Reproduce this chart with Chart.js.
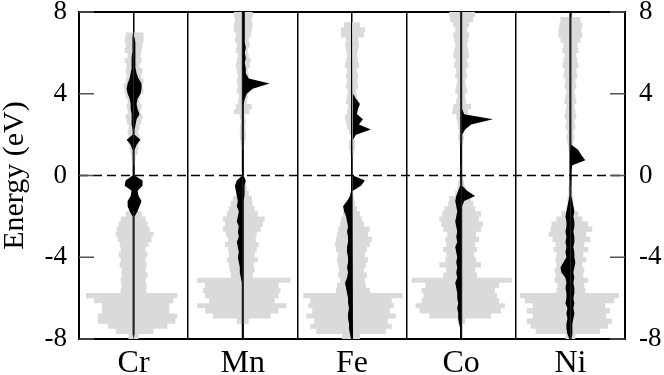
<!DOCTYPE html>
<html>
<head>
<meta charset="UTF-8">
<title>DOS Cr Mn Fe Co Ni</title>
<script src="https://cdn.jsdelivr.net/npm/chart.js"></script>
<style>
  html, body { margin: 0; padding: 0; background: #fff; }
  .box { width: 664px; height: 375px; position: relative; }
</style>
</head>
<body>
<div class="box"><canvas id="dos"></canvas></div>
<script>
// energy grid (eV)
const energy = [-8,-7.75,-7.5,-7.25,-7,-6.75,-6.5,-6.25,-6,-5.75,-5.5,-5.25,-5,-4.75,-4.5,-4.25,
  -4,-3.75,-3.5,-3.25,-3,-2.75,-2.5,-2.25,-2,-1.75,-1.5,-1.25,-1,-0.75,-0.5,-0.25,
  0,0.25,0.5,0.75,1,1.25,1.5,1.75,2,2.25,2.5,2.75,3,3.25,3.5,3.75,
  4,4.25,4.5,4.75,5,5.25,5.5,5.75,6,6.25,6.5,6.75,7,7.25,7.5,7.75,8];
const elements = ['Cr', 'Mn', 'Fe', 'Co', 'Ni'];
const yTicks = [-8, -4, 0, 4, 8];

// host DOS (grey), spin up = right, spin down = left
const crHostUp = [5,20,34,42,44,36,36,40, 44,13,13,12,14,12,13,12, 14,12,15,18,20,16,14,12, 8,0,0,0,0,0,0,0,
  0,0,1,2,4,5,5,6, 5,6,8,9,7,8,6,7, 10,9,10,8,9,6,8,7, 8,9,10,10,0,0,0,0, 0];
const crHostDn = [5,18,26,36,36,32,32,40, 48,13,12,13,12,12,14,13, 15,13,14,16,18,17,15,13, 8,0,0,0,0,0,0,0,
  0,0,1,2,3,4,5,5, 6,5,7,8,6,7,6,8, 9,10,8,7,8,7,9,6, 9,8,9,8,0,0,0,0, 0];
const mnHostUp = [0,0,0,6,28,36,44,32, 36,38,36,48,10,12,11,15, 12,14,16,13,14,18,20,22, 15,12,10,9,6,4,3,2,
  0,0,0,0,0,1,2,3, 3,2,3,2,7,9,4,5, 6,5,4,6,5,7,8,6, 5,7,6,8,9,10,9,10, 9];
const mnHostDn = [0,0,0,6,30,38,46,34, 38,40,38,46,12,13,14,16, 14,15,18,15,17,20,18,20, 16,14,12,10,6,4,3,2,
  0,0,0,0,0,1,2,3, 3,3,2,3,9,7,5,4, 6,5,6,5,6,7,6,5, 7,6,8,7,9,9,8,9, 8];
const feHostUp = [8,34,40,36,44,38,42,40, 51,18,14,13,15,12,14,16, 13,15,18,20,16,18,12,10, 8,5,3,2,1,0,0,0,
  0,0,0,0,2,3,3,1, 3,5,6,7,5,4,6,5, 4,6,5,6,5,7,6,5, 6,7,6,12,13,8,0,0, 0];
const feHostDn = [10,36,42,38,46,40,44,42, 49,16,15,12,14,13,14,15, 14,16,17,16,15,14,12,11, 9,6,4,3,1,0,0,0,
  0,0,0,0,2,3,3,1, 3,5,6,7,5,4,6,5, 4,6,5,6,5,7,6,5, 6,7,6,11,11,8,0,0, 0];
const coHostUp = [0,0,0,4,30,40,44,38, 36,34,38,51,16,14,20,15, 13,16,14,18,15,20,22,18, 20,14,12,10,6,4,3,2,
  0,1,0,0,0,0,2,3, 2,3,4,5,7,10,5,4, 6,5,4,6,5,7,6,8, 7,6,7,8,6,8,12,14, 12];
const coHostDn = [0,0,0,4,32,42,46,40, 38,40,36,50,18,15,22,16, 15,18,15,16,14,18,20,22, 19,17,13,12,6,4,3,2,
  0,1,0,0,0,0,2,3, 2,3,4,5,9,8,5,4, 6,5,4,6,5,7,6,8, 7,6,7,8,6,8,11,12, 11];
const niHostUp = [5,30,38,42,36,40,35,44, 49,15,14,18,13,14,12,16, 13,18,14,20,16,22,18,12, 8,4,3,3,2,2,1,0,
  0,0,0,0,0,2,3,4, 3,5,4,6,5,4,6,5, 4,6,5,7,6,8,7,6, 8,7,10,12,11,12,10,0, 0];
const niHostDn = [5,35,40,44,38,44,38,46, 51,14,13,16,15,16,14,15, 14,17,15,18,22,20,19,14, 9,4,3,3,2,2,1,0,
  0,0,0,0,0,2,3,4, 3,5,4,6,5,4,6,5, 4,6,5,7,6,8,7,6, 8,7,10,12,12,11,10,0, 0];

// impurity d-DOS (black)
const crImpUp = [0,1,1,1,1,1,1,1, 1,1,1,1,1,1,1,1, 1,1,1,1,1,1,1,1, 1,4,6,8,5,4,9,9,
  1,1,1,1,1,1,3,7, 1,1,2,3,6,4,3,4, 7,8,8,5,3,2,2,2, 2,1.5,1.5,1,0.5,0,0,0, 0];
const crImpDn = [0,1,1,1,1,1,1,1, 1,1,1,1,1,1,1,1, 1,1,1,1,1,1,1,1, 1,4,6,6,3,2,9,8,
  1,1,1,1,1,1,3,7, 1,1,2,2,2,3,3,4, 6,7,6,4,3,2,2,2, 1.5,1.5,1,1,0.5,0,0,0, 0];
const mnImpUp = [1,1,1,1,1,1,1,1, 1,1,1,1,1,1,1,1, 1,1,1,1,1,1,1,1, 1,1,1,1,1.5,1.5,2,3,
  0.5,1,1,1,1,1,1,1, 1,1,1,1,1,1,1,2, 4,10,27,6,3,3,2,3, 2,3,2,2,2,2,2,2, 2];
const mnImpDn = [1,1,1,1,1,1,1,1, 1,1,1,1.5,2,3,3,4, 5,4,5,6,4,5,4,6, 5,4,6,5,6,7,8,6,
  0.5,1,1,1,1,1,1,1, 1,1,1,1,1,1,1,1, 1,1,1,1,1,1,1,1, 1,1,1,1,1,1,1,1, 1];
const feImpUp = [1,1,1,1,1,1,1,1, 1,1,1,1,1,1,1,1, 1,1,1,1,1,1,1,1, 1,1,1,1,1,1,9,13,
  1,1,1,1,1,1,1,1, 4,19,7,11,5,6,8,4, 1,1,1,1,1,1,1,1, 1,1,1,1,1,1,1,1, 1];
const feImpDn = [1,2,3,3,4,4,3,4, 4,5,6,7,5,4,5,4, 4,5,5,4,4,5,4,5, 6,8,9,5,2,1,1,1,
  1,1,1,1,1,1,1,1, 1,1,1,1,1,1,1,1, 1,1,1,1,1,1,1,1, 1,1,1,1,1,1,1,1, 1];
const coImpUp = [1,1,1,1,1,1,1,1, 1,1,1,1,1,1,1,1, 1,1,1,1,1,1,1,1, 1,1,1,3,14,6,1,1,
  1,1,1,1,1,1,1,1, 1,4,10,32,3,1,1,1, 1,1,1,1,1,1,1,1, 1,1,1,1,1,1,1,1, 1];
const coImpDn = [1,1,1,2,3,3,4,3, 4,4,5,6,4,5,4,5, 4,5,6,4,5,4,5,6, 5,4,5,6,5,3,1,1,
  1,1,1,1,1,1,1,1, 1,1,1,1,1,1,1,1, 1,1,1,1,1,1,1,1, 1,1,1,1,1,1,1,1, 1];
const niImpUp = [1,2,2,2,3,4,3,4, 3,4,4,3,4,3,4,5, 4,4,3,4,4,3,4,4, 3,4,3,2,1,1,1,1,
  1,1,2,15,11,8,1,1, 1,1,1,1,1,1,1,1, 1,1,1,1,1,1,1,1, 1,1,1,1,1,1,1,1, 1];
const niImpDn = [1,3,4,4,3,4,3,5, 4,4,5,4,5,9,10,7, 4,5,4,5,4,5,4,4, 5,4,3,2,1,1,1,1,
  1,1,1,1,1,1,1,1, 1,1,1,1,1,1,1,1, 1,1,1,1,1,1,1,1, 1,1,1,1,1,1,1,1, 1];

const hostUp = [crHostUp, mnHostUp, feHostUp, coHostUp, niHostUp];
const hostDn = [crHostDn, mnHostDn, feHostDn, coHostDn, niHostDn];
const impUp = [crImpUp, mnImpUp, feImpUp, coImpUp, niImpUp];
const impDn = [crImpDn, mnImpDn, feImpDn, coImpDn, niImpDn];

const panel = 110;           // width of one panel in DOS units
const xMax = panel * elements.length;
const GREY = '#dadada';
const SERIF = "'Liberation Serif', 'DejaVu Serif', serif";

// one half of a mirrored DOS: center line -> profile -> center line
function half(center, sign, values) {
  const pts = [{x: center, y: energy[0]}];
  values.forEach((v, k) => pts.push({x: center + sign * v, y: energy[k]}));
  pts.push({x: center, y: energy[energy.length - 1]});
  return pts;
}

const datasets = [];
elements.forEach((el, i) => {
  const c = panel * i + panel / 2;
  [[1, hostUp[i]], [-1, hostDn[i]]].forEach(([s, vals]) => {
    if (vals.length !== energy.length) console.warn(el, 'host length', vals.length);
    datasets.push({
      data: half(c, s, vals), order: 3,
      backgroundColor: GREY, borderWidth: 0, fill: 'shape', stepped: 'after'
    });
  });
  [[1, impUp[i]], [-1, impDn[i]]].forEach(([s, vals]) => {
    if (vals.length !== energy.length) console.warn(el, 'imp length', vals.length);
    datasets.push({
      data: half(c, s, vals), order: 2,
      backgroundColor: '#000', borderWidth: 0, fill: 'shape'
    });
  });
});
// Fermi level
datasets.push({
  data: [{x: 0, y: 0}, {x: xMax, y: 0}], order: 1,
  borderColor: '#000', borderWidth: 1.6, borderDash: [9, 5], fill: false
});

const inwardTicks = {
  id: 'inwardTicks',
  afterDraw(chart) {
    const {ctx, chartArea: a, scales: {y}} = chart;
    ctx.save();
    ctx.strokeStyle = '#555';
    ctx.lineWidth = 1.5;
    yTicks.forEach(v => {
      const py = y.getPixelForValue(v);
      ctx.beginPath();
      ctx.moveTo(a.left, py); ctx.lineTo(a.left + 15, py);
      ctx.moveTo(a.right - 15, py); ctx.lineTo(a.right, py);
      ctx.stroke();
    });
    ctx.restore();
  }
};

const yAxis = (pos, width, pad) => ({
  type: 'linear', position: pos, min: -8, max: 8,
  afterBuildTicks: ax => { ax.ticks = yTicks.map(v => ({value: v})); },
  afterFit: ax => { ax.width = width; ax.paddingTop = 0; ax.paddingBottom = 0; },
  grid: {display: false, drawTicks: false},
  border: {display: true, color: '#000', width: 2},
  ticks: {color: '#000', padding: pad, font: {family: SERIF, size: 27}}
});

new Chart('dos', {
  type: 'line',
  data: {datasets},
  options: {
    responsive: true,
    maintainAspectRatio: false,
    animation: false,
    layout: {padding: 0},
    elements: {point: {radius: 0}, line: {tension: 0}},
    plugins: {legend: {display: false}, tooltip: {enabled: false}},
    scales: {
      x: {
        type: 'linear', min: 0, max: xMax, z: 1,
        afterBuildTicks: ax => {
          ax.ticks = [];
          for (let k = 0; k <= elements.length * 2; k++) ax.ticks.push({value: k * panel / 2});
        },
        afterFit: ax => { ax.height = 36; ax.paddingLeft = 0; ax.paddingRight = 0; },
        grid: {color: '#000', lineWidth: 1.5, drawTicks: false},
        border: {display: true, color: '#000', width: 2},
        ticks: {
          color: '#000', padding: 5, maxRotation: 0, autoSkip: false,
          font: {family: SERIF, size: 32},
          callback: (v, idx) => idx % 2 === 1 ? elements[(idx - 1) / 2] : ''
        }
      },
      x2: {
        type: 'linear', position: 'top', min: 0, max: xMax, z: 1,
        afterFit: ax => { ax.height = 12; ax.paddingLeft = 0; ax.paddingRight = 0; },
        grid: {display: false, drawTicks: false},
        border: {display: true, color: '#000', width: 2},
        ticks: {display: false}
      },
      y: Object.assign(yAxis('left', 79, 12), {
        title: {display: true, text: 'Energy (eV)', color: '#000', padding: 0,
                font: {family: SERIF, size: 30, lineHeight: 1}}
      }),
      y2: yAxis('right', 39, 14)
    }
  },
  plugins: [inwardTicks]
});
</script>
</body>
</html>
